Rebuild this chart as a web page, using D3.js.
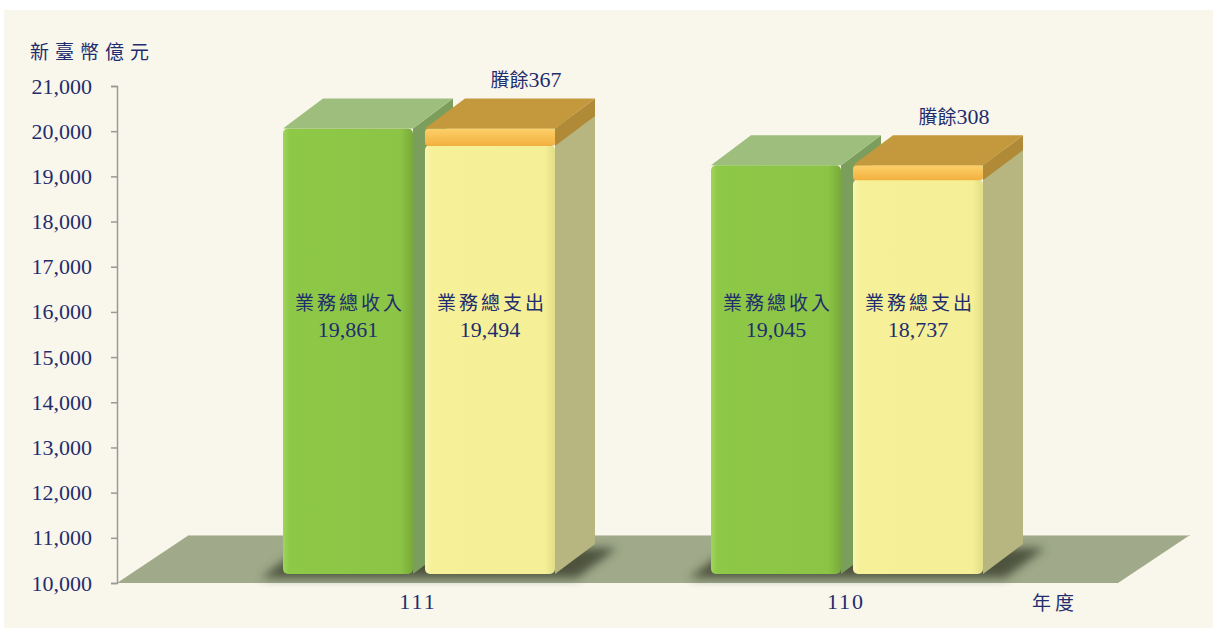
<!DOCTYPE html>
<html>
<head>
<meta charset="utf-8">
<script src="https://d3js.org/d3.v7.min.js"></script>
<style>
  body { margin: 0; background: #ffffff; }
  .lbl { fill: #1f2d6e; }
</style>
</head>
<body>
<div id="chart"></div>
<script>
// values (新臺幣億元)
const years = ["111", "110"];
const seriesNames = ["業務總收入", "業務總支出"];
const income = [19861, 19045];
const expense = [19494, 18737];
const surplus = [367, 308];
const yTicks = [10000, 11000, 12000, 13000, 14000, 15000, 16000, 17000, 18000, 19000, 20000, 21000];

const W = 1213, H = 630;
const serif = "'Liberation Serif', 'Times New Roman', serif";
const cjk = "'Noto Sans CJK TC', 'Noto Sans CJK SC', sans-serif";

// 3d depth of bars and of the floor
const DX = 40, DY = 30;       // bar depth
const FRONT = 9;              // bars front plane sits this much above floor front edge
const FDX = 72, FDY = 48;     // floor depth

const svg = d3.select("#chart").append("svg")
  .attr("width", W).attr("height", H);

const defs = svg.append("defs");

function hGrad(id, stops) {
  const g = defs.append("linearGradient").attr("id", id)
    .attr("x1", "0").attr("x2", "1").attr("y1", "0").attr("y2", "0");
  stops.forEach(s => g.append("stop").attr("offset", s[0]).attr("stop-color", s[1]));
}
hGrad("gFront", [[0, "#9fd55c"], [0.05, "#8ec847"], [0.9, "#8cc545"], [1, "#78a93a"]]);
hGrad("yFront", [[0, "#fbf6b2"], [0.05, "#f6f199"], [0.92, "#f5f097"], [1, "#e2de86"]]);
const og = defs.append("linearGradient").attr("id", "oFront")
  .attr("x1", "0").attr("x2", "0").attr("y1", "0").attr("y2", "1");
og.append("stop").attr("offset", 0).attr("stop-color", "#fdd06a");
og.append("stop").attr("offset", 1).attr("stop-color", "#f2b03e");

defs.append("filter").attr("id", "blur")
  .attr("x", "-20%").attr("y", "-50%").attr("width", "140%").attr("height", "200%")
  .append("feGaussianBlur").attr("stdDeviation", 5);

// panel
svg.append("rect").attr("x", 4).attr("y", 10).attr("width", W - 4).attr("height", 618)
  .attr("fill", "#f9f7ec");

// scales
const y = d3.scaleLinear().domain([10000, 21000]).range([583, 86]);
const x0 = d3.scaleBand().domain(years).range([205, 1061])
  .paddingInner(0.3645).paddingOuter(0.1822);
const x1 = d3.scaleBand().domain(seriesNames).range([0, x0.bandwidth()])
  .paddingInner(0.0845);

const axisX = 117;
const floorY = y(10000);
const floorRight = 1118;

// floor
svg.append("path")
  .attr("d", `M${axisX},${floorY} L${floorRight},${floorY} L${floorRight + FDX},${floorY - FDY} L${axisX + FDX},${floorY - FDY} Z`)
  .attr("fill", "#a0aa8a");
svg.append("line")
  .attr("x1", axisX + FDX).attr("x2", floorRight + FDX)
  .attr("y1", floorY - FDY + 0.5).attr("y2", floorY - FDY + 0.5)
  .attr("stroke", "#c9ccb6").attr("stroke-width", 1);

// y axis
const yAxis = d3.axisLeft(y).tickValues(yTicks).tickFormat(d3.format(",")).tickSize(6).tickPadding(20);
const gy = svg.append("g").attr("transform", `translate(${axisX},0)`).call(yAxis);
gy.select(".domain").attr("stroke", "#9a9a94").attr("stroke-width", 1.5);
gy.selectAll(".tick line").attr("stroke", "#9a9a94").attr("stroke-width", 1.5);
gy.selectAll(".tick text")
  .attr("fill", "#1f2d6e").attr("font-family", serif).attr("font-size", 22)
  .attr("x", -25);

svg.append("text").attr("class", "lbl")
  .attr("x", 30).attr("y", 59)
  .attr("font-family", cjk).attr("font-size", 19).attr("letter-spacing", 6)
  .text("新臺幣億元");

function box(g, x, yTop, yBot, w, front, top, side, rx) {
  g.append("path")
    .attr("d", `M${x + w},${yTop} L${x + w + DX},${yTop - DY} L${x + w + DX},${yBot - DY} L${x + w},${yBot} Z`)
    .attr("fill", side);
  g.append("rect")
    .attr("x", x).attr("y", yTop).attr("width", w).attr("height", yBot - yTop)
    .attr("rx", rx).attr("fill", front);
  g.append("path")
    .attr("d", `M${x},${yTop} L${x + DX},${yTop - DY} L${x + w + DX},${yTop - DY} L${x + w},${yTop} Z`)
    .attr("fill", top);
}

const bw = x1.bandwidth();
const baseY = floorY - FRONT;

years.forEach((yr, i) => {
  const gx = x0(yr);
  const g = svg.append("g");

  // shadow on the floor
  const sx0 = gx - 22, sx1 = gx + x0.bandwidth() + DX + 22;
  g.append("path")
    .attr("d", `M${sx0},${baseY + 4} L${sx1 - DX},${baseY + 4} L${sx1},${baseY - DY + 4} L${sx0 + DX},${baseY - DY + 4} Z`)
    .attr("fill", "#3f4532").attr("opacity", 0.85).attr("filter", "url(#blur)");

  // income bar
  const xg = gx + x1(seriesNames[0]);
  box(g, xg, y(income[i]) - FRONT, baseY, bw, "url(#gFront)", "#9dbe7d", "#7c9e5c", 5);

  // expense bar
  const xy = gx + x1(seriesNames[1]);
  const yExp = y(expense[i]) - FRONT;
  box(g, xy, yExp, baseY, bw, "url(#yFront)", "#d8d69a", "#b8b680", 5);

  // surplus cap
  const ySur = y(expense[i] + surplus[i]) - FRONT;
  box(g, xy, ySur, yExp + 1, bw, "url(#oFront)", "#c4983c", "#b18a38", 4);

  // labels inside bars
  [[xg, income[i], seriesNames[0]], [xy, expense[i], seriesNames[1]]].forEach(([bx, v, name]) => {
    g.append("text").attr("class", "lbl")
      .attr("x", bx + bw / 2 + 2).attr("y", 310)
      .attr("text-anchor", "middle")
      .attr("font-family", cjk).attr("font-size", 19).attr("letter-spacing", 3)
      .text(name);
    g.append("text").attr("class", "lbl")
      .attr("x", bx + bw / 2).attr("y", 337)
      .attr("text-anchor", "middle")
      .attr("font-family", serif).attr("font-size", 22)
      .text(d3.format(",")(v));
  });

  // surplus label
  const sl = g.append("text").attr("class", "lbl")
    .attr("x", xy + bw / 2 + 36).attr("y", ySur - DY - 11)
    .attr("text-anchor", "middle");
  sl.append("tspan").attr("font-family", cjk).attr("font-size", 19).text("賸餘");
  sl.append("tspan").attr("font-family", serif).attr("font-size", 22).text(surplus[i]);

  // category label
  svg.append("text").attr("class", "lbl")
    .attr("x", gx + x0.bandwidth() / 2 - 1).attr("y", 609)
    .attr("text-anchor", "middle")
    .attr("font-family", serif).attr("font-size", 22).attr("letter-spacing", 2)
    .text(yr);
});

svg.append("text").attr("class", "lbl")
  .attr("x", 1032).attr("y", 610)
  .attr("font-family", cjk).attr("font-size", 19).attr("letter-spacing", 4)
  .text("年度");
</script>
</body>
</html>
